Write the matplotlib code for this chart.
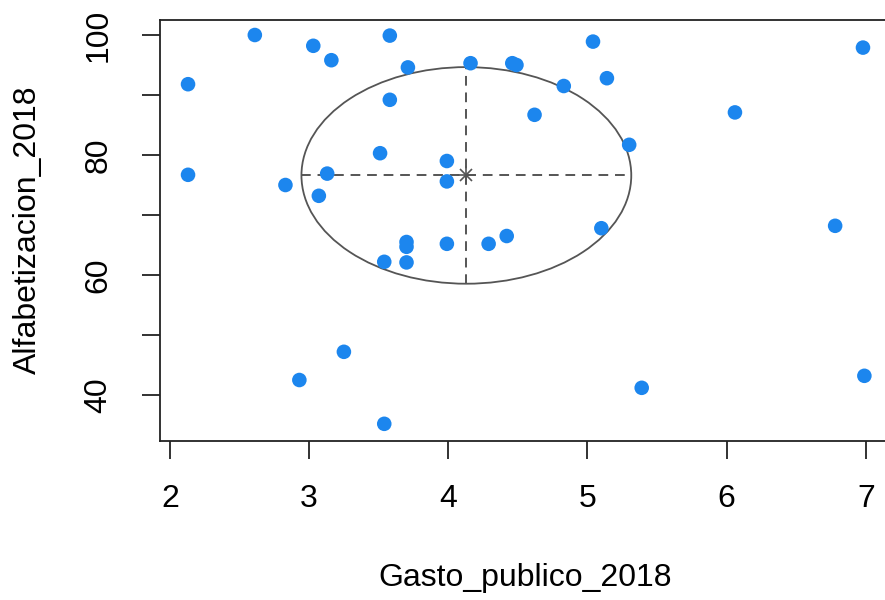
import matplotlib
matplotlib.use("Agg")
import matplotlib.pyplot as plt
from matplotlib.patches import Ellipse

# values
gasto_publico = [2.61, 3.03, 3.16, 3.58, 3.71, 4.16, 4.46, 4.49, 2.13, 3.58,
                 3.51, 3.99, 3.99, 3.13, 2.13, 2.83, 3.07, 3.70, 3.70, 3.70,
                 3.54, 3.99, 4.29, 4.42, 3.25, 2.93, 3.54, 5.04, 5.14, 4.83,
                 4.62, 6.06, 5.30, 6.98, 5.10, 6.78, 5.39, 6.99]
alfabetizacion = [100.0, 98.2, 95.8, 99.9, 94.6, 95.3, 95.3, 95.0, 91.8, 89.2,
                  80.3, 79.0, 75.6, 76.9, 76.7, 75.0, 73.2, 65.5, 64.7, 62.1,
                  62.2, 65.2, 65.2, 66.5, 47.2, 42.5, 35.2, 98.9, 92.8, 91.5,
                  86.7, 87.1, 81.7, 97.9, 67.8, 68.2, 41.2, 43.2]

# ellipse (centre and half-axes) as drawn in the picture
centro = (4.13, 76.6)
radio_x = 1.185
radio_y = 18.05

x_ticks = [2, 3, 4, 5, 6, 7]
y_ticks = [40, 50, 60, 70, 80, 90, 100]
y_tick_labels = ["40", "", "60", "", "80", "", "100"]

plt.rcParams["font.family"] = ["Liberation Sans", "DejaVu Sans"]

fig = plt.figure(figsize=(8.85, 6), dpi=100)
# right edge of the box falls just outside the picture, like the reference
ax = fig.add_axes([159.5 / 885, 1 - 440.5 / 600, (889 - 159.5) / 885, 420.5 / 600])

ax.scatter(gasto_publico, alfabetizacion, s=110, color="#1C86EE", edgecolors="none", zorder=3)

gris = "#555555"
ax.add_patch(Ellipse(centro, 2 * radio_x, 2 * radio_y, fill=False, edgecolor=gris, linewidth=1.3, zorder=2))
ax.plot([centro[0] - radio_x, centro[0] + radio_x], [centro[1], centro[1]],
        color=gris, linewidth=1.4, dashes=(5, 3.5), zorder=2)
ax.plot([centro[0], centro[0]], [centro[1] - radio_y, centro[1] + radio_y],
        color=gris, linewidth=1.4, dashes=(5, 3.5), zorder=2)
ax.plot([centro[0]], [centro[1]], marker="+", markersize=13, mew=1.2, color=gris, zorder=4)
ax.plot([centro[0]], [centro[1]], marker="x", markersize=9, mew=1.2, color=gris, zorder=4)

ax.set_xlim(1.925, 7.167)
ax.set_ylim(32.42, 102.5)
ax.set_xticks(x_ticks)
ax.set_xticklabels([str(v) for v in x_ticks])
ax.set_yticks(y_ticks)
ax.set_yticklabels(y_tick_labels)

for s in ax.spines.values():
    s.set_linewidth(1.3)
    s.set_color("#222222")
ax.tick_params(axis="both", length=13, width=1.3, color="#222222", labelsize=23)
ax.tick_params(axis="x", pad=18)
ax.tick_params(axis="y", pad=20, labelrotation=90)
for lab in ax.get_yticklabels():
    lab.set_verticalalignment("center")

ax.set_xlabel("Gasto_publico_2018", fontsize=23, va="center")
ax.set_ylabel("Alfabetizacion_2018", fontsize=23, va="center")
ax.xaxis.set_label_coords(525 / 885, 1 - 578 / 600, transform=fig.transFigure)
ax.yaxis.set_label_coords(28 / 885, 1 - 230 / 600, transform=fig.transFigure)

fig.savefig("out.png", dpi=100)
